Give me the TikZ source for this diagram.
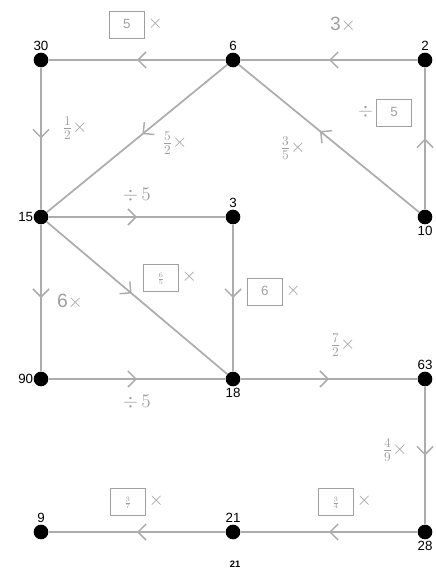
\documentclass[tikz,border=0pt]{standalone}
\usepackage{fontspec}
\setmainfont{Liberation Sans}
\usetikzlibrary{arrows.meta, decorations.markings, positioning}

% empty answer box with a tiny entry
\newcommand{\ansbox}[1]{{\setlength{\fboxsep}{1.5pt}\setlength{\fboxrule}{0.8pt}%
  \fbox{\makebox[22pt]{\rule[-6pt]{0pt}{17pt}#1}}}}

\begin{document}
\begin{tikzpicture}[
                      x=0.75pt, y=-0.75pt,
                      >=Straight Barb,
                  ]
                  \tikzset{
                      dot/.style  = {circle, fill=black, inner sep=0pt, minimum size=11pt},
                      num/.style  = {font=\normalsize, text=black, inner sep=1pt},
                      op/.style   = {font=\Large, text=gray!75, inner sep=1pt},
                      edge/.style = {line width=1.3pt, gray!65,
                                     postaction={decorate},
                                     decoration={markings,
                                       mark=at position #1 with {\arrow{Straight Barb[length=6pt, width=12pt, line width=1.1pt]}}}},
                      edge/.default = 0.5,
                  }
                  \useasboundingbox (0,0) rectangle (435,573);

                  % Numbers
                  \node[dot, label={[num]above:30}] (n30) at (41,60) {};
                  \node[dot, label={[num]above:6}]  (n6)  at (233,60) {};
                  \node[dot, label={[num]above:2}]  (n2)  at (425,60) {};
                  \node[dot, label={[num, label distance=-1pt]left:15}] (n15) at (41,217) {};
                  \node[dot, label={[num]above:3}]  (n3)  at (233,217) {};
                  \node[dot, label={[num]below:10}] (n10) at (425,217) {};
                  \node[dot, label={[num, label distance=-1pt]left:90}] (n90) at (41,379) {};
                  \node[dot, label={[num]below:18}] (n18) at (233,379) {};
                  \node[dot, label={[num]above:63}] (n63) at (425,379) {};
                  \node[dot, label={[num]above:9}]  (n9)  at (41,532) {};
                  \node[dot, label={[num]above:21}] (n21) at (233,532) {};
                  \node[dot, label={[num]below:28}] (n28) at (425,532) {};
                  \node[num, font=\scriptsize\bfseries] (n21b) at (235,564) {21};

                  % Operations
                  \draw[edge] (n6) -- (n30);
                  \draw[edge] (n2) -- (n6);
                  \draw[edge] (n30) -- (n15);
                  \draw[edge=0.47] (n6) -- (n15);
                  \draw[edge=0.55] (n10) -- (n6);
                  \draw[edge] (n10) -- (n2);
                  \draw[edge] (n15) -- (n3);
                  \draw[edge=0.47] (n15) -- (n18);
                  \draw[edge] (n3) -- (n18);
                  \draw[edge] (n15) -- (n90);
                  \draw[edge] (n90) -- (n18);
                  \draw[edge] (n18) -- (n63);
                  \draw[edge] (n63) -- (n28);
                  \draw[edge] (n28) -- (n21);
                  \draw[edge] (n21) -- (n9);

                  % Labels
                  \node[op] (l1)  at (136,25)  {\ansbox{\normalsize 5}\,$\times$};
                  \node[op] (l2)  at (343,25)  {3$\times$};
                  \node[op] (l3)  at (75,128)  {$\frac{1}{2}\times$};
                  \node[op] (l4)  at (175,143) {$\frac{5}{2}\times$};
                  \node[op] (l5)  at (293,148) {$\frac{3}{5}\times$};
                  \node[op] (l6)  at (385,113) {$\div$\,\ansbox{\normalsize 5}};
                  \node[op] (l7)  at (137,195) {$\div\,5$};
                  \node[op] (l8)  at (170,278) {\ansbox{\scriptsize$\frac{6}{5}$}\,$\times$};
                  \node[op] (l9)  at (274,292) {\ansbox{\normalsize 6}\,$\times$};
                  \node[op] (l10) at (70,302)  {6$\times$};
                  \node[op] (l11) at (137,402) {$\div\,5$};
                  \node[op] (l12) at (343,345) {$\frac{7}{2}\times$};
                  \node[op] (l13) at (395,450) {$\frac{4}{9}\times$};
                  \node[op] (l14) at (137,502) {\ansbox{\scriptsize$\frac{3}{7}$}\,$\times$};
                  \node[op] (l15) at (345,502) {\ansbox{\scriptsize$\frac{3}{4}$}\,$\times$};

              \end{tikzpicture}
\end{document}
